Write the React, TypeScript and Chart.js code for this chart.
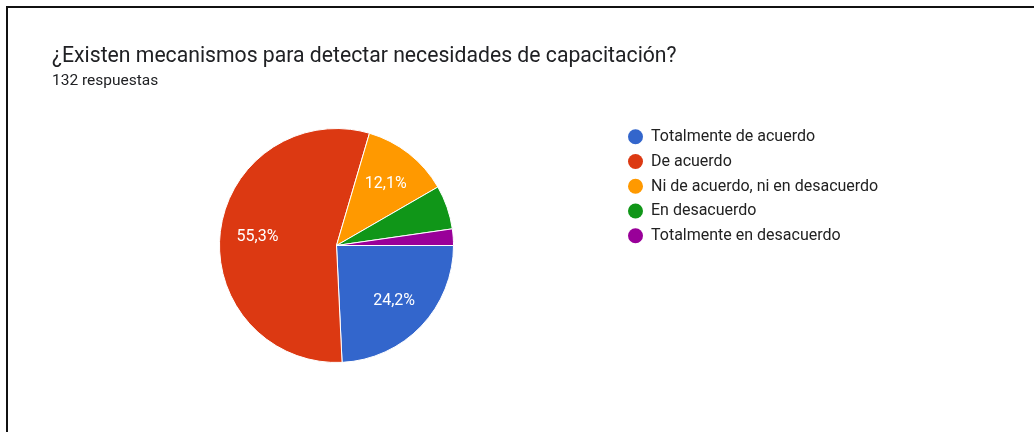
import React, { useEffect, useRef } from "react";
import { Chart, registerables } from "chart.js";

Chart.register(...registerables);

const TITLE = "¿Existen mecanismos para detectar necesidades de capacitación?";
const SUBTITLE = "132 respuestas";
const categories = [
  "Totalmente de acuerdo",
  "De acuerdo",
  "Ni de acuerdo, ni en desacuerdo",
  "En desacuerdo",
  "Totalmente en desacuerdo",
];
const responses = [32, 73, 16, 8, 3];
const sliceColors = ["#3366cc", "#dc3912", "#ff9900", "#109618", "#990099"];

const FONT = "Roboto, Arial, sans-serif";

const sliceLabelPlugin = {
  id: "sliceLabels",
  afterDatasetsDraw(chart: any) {
    const ctx = chart.ctx;
    const meta = chart.getDatasetMeta(0);
    const values = chart.data.datasets[0].data as number[];
    const total = values.reduce((a, b) => a + b, 0);
    ctx.save();
    ctx.fillStyle = "#ffffff";
    ctx.font = `16px ${FONT}`;
    ctx.textAlign = "center";
    ctx.textBaseline = "middle";
    meta.data.forEach((arc: any, i: number) => {
      const frac = values[i] / total;
      if (frac < 0.1) return;
      const { x, y, startAngle, endAngle, outerRadius } = arc.getProps(
        ["x", "y", "startAngle", "endAngle", "outerRadius"],
        true
      );
      const mid = (startAngle + endAngle) / 2;
      const r = outerRadius * 0.68;
      const txt = (frac * 100).toFixed(1).replace(".", ",") + "%";
      ctx.fillText(txt, x + Math.cos(mid) * r, y + Math.sin(mid) * r + 1);
    });
    ctx.restore();
  },
};

const legendPlugin = {
  id: "sideLegend",
  afterDraw(chart: any) {
    const ctx = chart.ctx;
    const labels = chart.data.labels as string[];
    const colors = chart.data.datasets[0].backgroundColor as string[];
    ctx.save();
    ctx.font = `16px ${FONT}`;
    ctx.textAlign = "left";
    ctx.textBaseline = "middle";
    labels.forEach((lab, i) => {
      const cy = 136.7 + i * 24.75;
      ctx.beginPath();
      ctx.fillStyle = colors[i];
      ctx.arc(635.5, cy, 7.5, 0, Math.PI * 2);
      ctx.fill();
      ctx.fillStyle = "#222222";
      ctx.fillText(lab, 651, cy + 0.5);
    });
    ctx.restore();
  },
};

export default function App() {
  const ref = useRef<HTMLCanvasElement | null>(null);

  useEffect(() => {
    if (!ref.current) return;
    const chart = new Chart(ref.current, {
      type: "pie",
      data: {
        labels: categories,
        datasets: [
          {
            data: responses,
            backgroundColor: sliceColors,
            borderColor: "#ffffff",
            borderWidth: 1,
          },
        ],
      },
      options: {
        animation: false,
        responsive: false,
        devicePixelRatio: 1,
        rotation: 90,
        radius: 117,
        layout: {
          padding: { left: 219.5, right: 580.5, top: 128.5, bottom: 69.5 },
        },
        plugins: {
          legend: { display: false },
          tooltip: { enabled: false },
          title: { display: false },
        },
      },
      plugins: [sliceLabelPlugin, legendPlugin],
    });
    return () => chart.destroy();
  }, []);

  return (
    <div
      style={{
        position: "fixed",
        left: 0,
        top: 0,
        width: 1034,
        height: 432,
        background: "#ffffff",
        overflow: "hidden",
      }}
    >
      <canvas
        ref={ref}
        width={1034}
        height={432}
        style={{ position: "absolute", left: 0, top: 0, width: 1034, height: 432 }}
      />
      <div
        style={{
          position: "absolute",
          left: 6,
          top: 6,
          width: 1040,
          height: 440,
          borderTop: "2px solid #111",
          borderLeft: "2px solid #111",
        }}
      />
      <div
        style={{
          position: "absolute",
          left: 52,
          top: 42,
          fontFamily: FONT,
          fontSize: 21.2,
          lineHeight: "26px",
          color: "#202124",
          whiteSpace: "nowrap",
        }}
      >
        {TITLE}
      </div>
      <div
        style={{
          position: "absolute",
          left: 52,
          top: 71,
          fontFamily: FONT,
          fontSize: 15.5,
          lineHeight: "18px",
          color: "#202124",
          whiteSpace: "nowrap",
        }}
      >
        {SUBTITLE}
      </div>
    </div>
  );
}
